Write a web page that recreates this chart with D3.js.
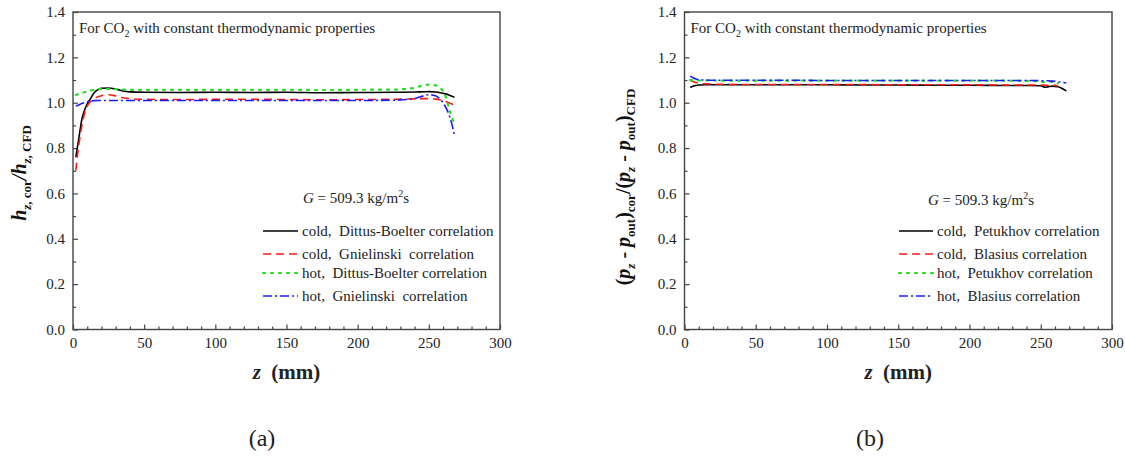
<!DOCTYPE html>
<html>
<head>
<meta charset="utf-8">
<script src="https://cdn.jsdelivr.net/npm/d3@7/dist/d3.min.js"></script>
<style>
  body { margin: 0; background: #fff; }
  svg { display: block; font-family: "Liberation Serif", "Times New Roman", serif; }
</style>
</head>
<body>
<script>
// ---- data ----
var xTicks = [0, 50, 100, 150, 200, 250, 300];
var yTicks = [0.0, 0.2, 0.4, 0.6, 0.8, 1.0, 1.2, 1.4];

// (a) heat transfer coefficient ratio
var zA = [2,3,4,5,6,8,10,12,15,18,20,25,30,35,40,50,75,100,125,150,175,200,225,240,245,250,255,258,261,264,266,268];
var coldDB = [0.76,0.80,0.84,0.88,0.92,0.965,0.995,1.015,1.045,1.059,1.064,1.065,1.06,1.052,1.048,1.046,1.045,1.046,1.045,1.046,1.044,1.045,1.046,1.047,1.048,1.049,1.047,1.044,1.04,1.034,1.029,1.024];
var coldGn = [0.70,0.76,0.81,0.85,0.89,0.95,0.985,1.003,1.018,1.027,1.031,1.035,1.03,1.022,1.018,1.015,1.014,1.015,1.015,1.014,1.013,1.014,1.015,1.017,1.018,1.018,1.016,1.012,1.007,1.0,0.995,0.99];
var hotDB  = [1.035,1.036,1.038,1.04,1.042,1.046,1.05,1.053,1.057,1.06,1.061,1.061,1.06,1.058,1.057,1.057,1.057,1.057,1.057,1.057,1.056,1.057,1.058,1.065,1.075,1.08,1.076,1.065,1.04,0.98,0.94,0.905];
var hotGn  = [0.985,0.988,0.99,0.993,0.996,1.0,1.004,1.007,1.009,1.01,1.01,1.01,1.01,1.01,1.01,1.01,1.01,1.01,1.01,1.01,1.01,1.01,1.011,1.018,1.028,1.035,1.03,1.015,0.99,0.95,0.91,0.855];
var namesA = ["cold,  Dittus-Boelter correlation", "cold,  Gnielinski  correlation", "hot,  Dittus-Boelter correlation", "hot,  Gnielinski  correlation"];

// (b) pressure drop ratio
var zB = [4,6,8,10,15,20,30,50,75,100,125,150,175,200,225,240,250,253,255,258,262,265,268];
var coldPet = [1.068,1.073,1.076,1.078,1.079,1.079,1.079,1.079,1.079,1.079,1.078,1.078,1.077,1.077,1.076,1.076,1.075,1.068,1.070,1.073,1.070,1.063,1.052];
var coldBla = [1.098,1.094,1.089,1.086,1.083,1.082,1.081,1.080,1.080,1.080,1.080,1.079,1.079,1.079,1.078,1.078,1.078,1.077,1.077,1.078,1.074,null,null];
var hotPet  = [1.100,1.099,1.098,1.098,1.098,1.098,1.097,1.097,1.097,1.097,1.097,1.097,1.097,1.097,1.097,1.096,1.094,1.090,1.093,1.092,1.085,null,null];
var hotBla  = [1.117,1.110,1.105,1.102,1.100,1.099,1.099,1.099,1.099,1.098,1.098,1.098,1.098,1.098,1.098,1.098,1.097,1.096,1.097,1.095,1.093,1.090,1.088];
var namesB = ["cold,  Petukhov correlation", "cold,  Blasius correlation", "hot,  Petukhov correlation", "hot,  Blasius correlation"];

// ---- styles ----
var colors = ["#000000", "#ff1a1a", "#22dd22", "#1a1aff"];
var dashes = [null, "8,5", "2,6", "9,3,2,3"];

var W = 1125, H = 458;
var svg = d3.select("body").append("svg").attr("width", W).attr("height", H);

var panels = [
  { left: 73, right: 500, z: zA, series: [coldDB, coldGn, hotDB, hotGn], names: namesA,
    legX: 263, legTextX: 302, gX: 303, gY: 203, tag: "(a)", tagX: 262, labX: 26, labY: 173 },
  { left: 684.5, right: 1112, z: zB, series: [coldPet, coldBla, hotPet, hotBla], names: namesB,
    legX: 899, legTextX: 937, gX: 928, gY: 205, tag: "(b)", tagX: 870, labX: 630, labY: 187 }
];
var plotTop = 12, plotBottom = 329.5;
var legRows = [236, 259, 278, 301];

panels.forEach(function(p, pi) {
  var x = d3.scaleLinear().domain([0, 300]).range([p.left, p.right]);
  var y = d3.scaleLinear().domain([0, 1.4]).range([plotBottom, plotTop]);
  var g = svg.append("g");

  // minor ticks
  g.append("g").attr("transform", "translate(0," + plotBottom + ")")
    .call(d3.axisBottom(x).tickValues(d3.range(10, 300, 10).filter(function(v){ return v % 50; }))
      .tickSize(-3).tickFormat(""))
    .call(function(a){ a.select(".domain").remove(); });
  g.append("g").attr("transform", "translate(" + p.left + ",0)")
    .call(d3.axisLeft(y).tickValues([0.1, 0.3, 0.5, 0.7, 0.9, 1.1, 1.3]).tickSize(-3).tickFormat(""))
    .call(function(a){ a.select(".domain").remove(); });

  // major ticks with labels
  var xa = g.append("g").attr("transform", "translate(0," + plotBottom + ")")
    .call(d3.axisBottom(x).tickValues(xTicks).tickSize(-5).tickPadding(8));
  var ya = g.append("g").attr("transform", "translate(" + p.left + ",0)")
    .call(d3.axisLeft(y).tickValues(yTicks).tickSize(-5).tickPadding(8).tickFormat(d3.format(".1f")));
  [xa, ya].forEach(function(a) {
    a.select(".domain").remove();
    a.selectAll("text").attr("font-family", "Liberation Serif").attr("font-size", 15).attr("fill", "#222");
  });
  g.selectAll(".tick line").attr("stroke", "#444").attr("stroke-width", 1.2);

  // frame
  g.append("rect").attr("x", p.left).attr("y", plotTop)
    .attr("width", p.right - p.left).attr("height", plotBottom - plotTop)
    .attr("fill", "none").attr("stroke", "#444").attr("stroke-width", 1.4);

  // curves
  p.series.forEach(function(vals, si) {
    var line = d3.line()
      .defined(function(d, i){ return vals[i] != null; })
      .x(function(d, i){ return x(p.z[i]); })
      .y(function(d, i){ return y(vals[i]); })
      .curve(d3.curveMonotoneX);
    g.append("path").datum(vals).attr("d", line)
      .attr("fill", "none").attr("stroke", colors[si]).attr("stroke-width", si == 2 ? 2.2 : 1.6)
      .attr("stroke-dasharray", dashes[si]).attr("stroke-linecap", si == 2 ? "round" : "butt");
  });

  // legend
  p.names.forEach(function(nm, si) {
    var ly = legRows[si] - 5;
    g.append("line").attr("x1", p.legX).attr("x2", p.legTextX - 4).attr("y1", ly).attr("y2", ly)
      .attr("stroke", colors[si]).attr("stroke-width", si == 2 ? 2.2 : 1.6)
      .attr("stroke-dasharray", dashes[si]).attr("stroke-linecap", si == 2 ? "round" : "butt");
    g.append("text").attr("x", p.legTextX).attr("y", legRows[si])
      .attr("font-size", 15).attr("fill", "#222").attr("xml:space", "preserve").text(nm);
  });

  // note
  var note = g.append("text").attr("x", p.left + 6).attr("y", 33).attr("font-size", 15).attr("fill", "#222");
  note.append("tspan").text("For CO");
  note.append("tspan").attr("font-size", 10).attr("dy", 4).text("2");
  note.append("tspan").attr("dy", -4).text(" with constant thermodynamic properties");

  // G label
  var gl = g.append("text").attr("x", p.gX).attr("y", p.gY).attr("font-size", 15).attr("fill", "#222");
  gl.append("tspan").attr("font-style", "italic").text("G");
  gl.append("tspan").text(" = 509.3 kg/m");
  gl.append("tspan").attr("font-size", 10).attr("dy", -6).text("2");
  gl.append("tspan").attr("dy", 6).text("s");

  // x title
  var xt = g.append("text").attr("x", (p.left + p.right) / 2).attr("y", 379)
    .attr("text-anchor", "middle").attr("font-size", 21).attr("font-weight", "bold").attr("fill", "#222")
    .attr("xml:space", "preserve");
  xt.append("tspan").attr("font-style", "italic").text("z");
  xt.append("tspan").text("  (mm)");

  // panel tag
  g.append("text").attr("x", p.tagX).attr("y", 446).attr("text-anchor", "middle")
    .attr("font-size", 24).attr("fill", "#222").text(p.tag);

  // y title
  var yt = g.append("text").attr("transform", "translate(" + p.labX + "," + p.labY + ") rotate(-90)")
    .attr("text-anchor", "middle").attr("font-size", 20).attr("font-weight", "bold").attr("fill", "#111")
    .attr("xml:space", "preserve");
  function sub(t, txt, italicFirst) {
    var s = t.append("tspan").attr("font-size", 13).attr("dy", 5);
    if (italicFirst) s.attr("font-style", "italic");
    s.text(txt[0]);
    t.append("tspan").attr("font-size", 13).text(txt[1]);
  }
  if (pi == 0) {
    yt.append("tspan").attr("font-style", "italic").text("h");
    sub(yt, ["z", ", cor"], true);
    yt.append("tspan").attr("dy", -5).attr("font-style", "italic").text("/h");
    sub(yt, ["z", ", CFD"], true);
  } else {
    var parts = ["cor", "CFD"];
    parts.forEach(function(pt, k) {
      yt.append("tspan").attr("dy", k == 0 ? 0 : -5).text(k == 0 ? "(" : "/(");
      yt.append("tspan").attr("font-style", "italic").text("p");
      yt.append("tspan").attr("font-size", 13).attr("font-style", "italic").attr("dy", 5).text("z");
      yt.append("tspan").attr("dy", -5).text(" - ");
      yt.append("tspan").attr("font-style", "italic").text("p");
      yt.append("tspan").attr("font-size", 13).attr("dy", 5).text("out");
      yt.append("tspan").attr("dy", -5).text(")");
      yt.append("tspan").attr("font-size", 13).attr("dy", 5).text(pt);
    });
  }
});
</script>
</body>
</html>
